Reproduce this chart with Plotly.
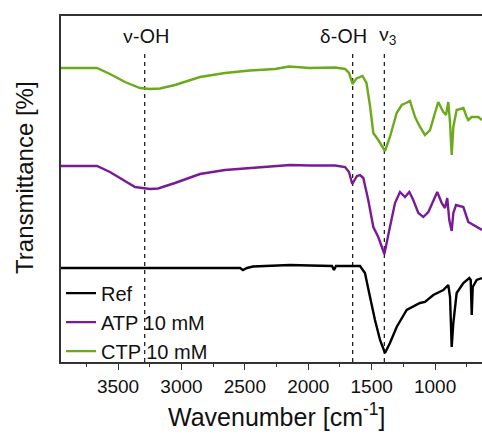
import plotly.graph_objects as go

# Wavenumber [cm-1] and transmittance (arbitrary, vertically offset units)
ref_wn = [3950, 3248, 2854, 2538, 2515, 2483, 2436, 2144, 1986, 1813, 1797, 1781, 1592, 1553, 1513,
          1474, 1434, 1395, 1356, 1303, 1224, 1119, 1080, 1014, 935, 896, 882, 869, 856, 830, 777,
          730, 719, 711, 703, 672, 630]
ref_t = [94, 94, 93.5, 94, 92, 94, 95.5, 97, 96.5, 96, 92, 96, 96, 89, 65,
         42, 22, 9, 19, 35, 52, 59, 60, 67, 72, 77, 65, 15, 39, 69, 79,
         84, 82, 47, 75, 82, 84]

atp_wn = [3950, 3666, 3564, 3445, 3366, 3248, 3185, 3051, 2854, 2657, 2460, 2262, 2144, 1986, 1789,
          1710, 1679, 1653, 1616, 1592, 1566, 1527, 1487, 1448, 1400, 1356, 1316, 1277, 1237, 1203,
          1172, 1132, 1093, 1053, 1014, 983, 948, 922, 904, 888, 869, 856, 835, 777, 738, 699, 630]
atp_t = [196, 196, 190, 181, 175, 173, 173.5, 179, 188, 192, 194, 195.5, 197, 196.5, 196.5,
         195, 190, 178, 186, 187, 184, 162, 135, 125, 108, 135, 159, 170, 165, 170,
         162, 149, 145, 150, 162, 170, 159, 154, 164, 142, 131, 149, 157, 155, 140, 137, 132]

ctp_wn = [3950, 3666, 3564, 3445, 3327, 3248, 3169, 3051, 2854, 2657, 2460, 2262, 2152, 1986, 1789,
          1710, 1679, 1651, 1620, 1572, 1541, 1513, 1487, 1448, 1395, 1356, 1303, 1263, 1229, 1198,
          1158, 1119, 1080, 1040, 1001, 975, 935, 914, 896, 882, 869, 856, 830, 777, 751, 738, 712,
          659, 630]
ctp_t = [294, 294, 288, 280, 274, 273, 273.5, 277, 285, 289, 291.5, 293, 295.5, 294, 294.5,
         293, 289, 278, 283.5, 286, 279, 256, 229, 222, 211, 225, 249, 257, 259, 261,
         245, 235, 227, 232, 249, 260, 250, 247, 260, 239, 207, 235, 252, 254, 245, 242, 245,
         245, 242]

band_wn = [3290, 1650, 1400]
band_labels = ["ν-OH", "δ-OH", "ν<sub>3</sub>"]
band_shift = [2, -9, 3]

series = [
    ("Ref", ref_wn, ref_t, "#000000"),
    ("ATP 10 mM", atp_wn, atp_t, "#7a1a96"),
    ("CTP 10 mM", ctp_wn, ctp_t, "#6aaa1c"),
]

fig = go.Figure()
for name, x, y, c in series:
    fig.add_trace(go.Scatter(x=x, y=y, mode="lines", name=name,
                             line=dict(color=c, width=2.4)))

for wn in band_wn:
    fig.add_shape(type="line", xref="x", yref="paper", x0=wn, x1=wn, y0=0, y1=0.893,
                  line=dict(color="#222222", width=1.3, dash="4px,4px"), layer="below")

for wn, lab, sh in zip(band_wn, band_labels, band_shift):
    fig.add_annotation(x=wn, y=0.945, xref="x", yref="paper", text=lab, showarrow=False,
                       xanchor="center", yanchor="middle", xshift=sh,
                       font=dict(family="Lato", size=19, color="#111111"))

fig.add_annotation(x=-0.0855, y=0.532, xref="paper", yref="paper", text="Transmittance [%]",
                   textangle=-90, showarrow=False, xanchor="center", yanchor="middle",
                   font=dict(family="Liberation Sans", size=24, color="#111111"))

fig.add_annotation(x=0.511, y=-0.205, xref="paper", yref="paper",
                   text="Wavenumber [cm<sup>-1</sup>]", showarrow=False,
                   xanchor="center", yanchor="bottom",
                   font=dict(family="Liberation Sans", size=25, color="#111111"))

fig.update_layout(
    width=482, height=435,
    margin=dict(l=61, r=0, t=16, b=73, autoexpand=False),
    paper_bgcolor="white", plot_bgcolor="white",
    showlegend=True,
    legend=dict(x=0.0, y=-0.025, xanchor="left", yanchor="bottom",
                font=dict(family="Liberation Sans", size=20, color="#111111"),
                bgcolor="rgba(0,0,0,0)", tracegroupgap=0, itemwidth=30),
    font=dict(family="Liberation Sans", color="#111111"),
)
fig.update_xaxes(
    range=[3950, 630], showgrid=False, zeroline=False, automargin=False,
    showline=True, mirror=True, linecolor="#333333", linewidth=1.5,
    ticks="outside", ticklen=6, tickcolor="#333333", tickwidth=1.2,
    tickvals=[3500, 3000, 2500, 2000, 1500, 1000],
    minor=dict(ticks="outside", ticklen=3, tickcolor="#333333", dtick=250, tick0=0),
    tickfont=dict(family="Liberation Sans", size=19, color="#111111"),
)
fig.update_yaxes(
    range=[0, 346], showgrid=False, zeroline=False, showticklabels=False, automargin=False,
    showline=True, mirror=False, linecolor="#333333", linewidth=1.5, ticks="",
)

fig.write_html("out.html", config={"displayModeBar": False},
               post_script="document.body.style.margin='0';document.body.style.overflow='hidden';")
